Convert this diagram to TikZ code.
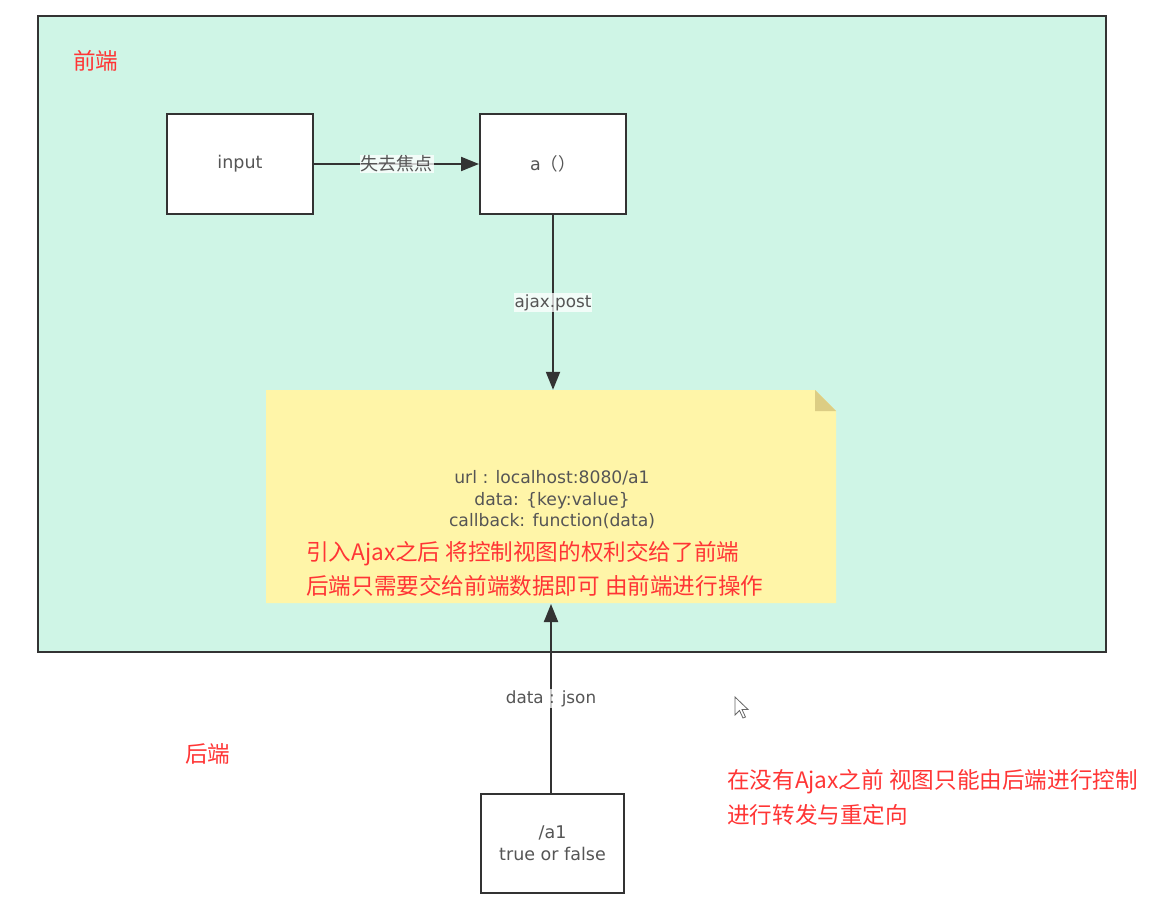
\documentclass[tikz,border=0pt]{standalone}
\usepackage{fontspec}
\setmainfont{Noto Sans CJK SC}
\newfontfamily\latinf{DejaVu Sans}
\usetikzlibrary{arrows.meta}
\definecolor{mint}{HTML}{CFF5E6}
\definecolor{notey}{HTML}{FFF5A8}
\definecolor{foldy}{HTML}{DCCD84}
\definecolor{edge}{HTML}{333333}
\definecolor{redtxt}{HTML}{FF3535}
\definecolor{graytxt}{HTML}{555555}
\tikzset{
  procbox/.style={draw=edge, line width=2pt, fill=white, minimum width=146pt, minimum height=100pt, inner sep=0pt, text=graytxt, font=\fontsize{17.5}{23}\selectfont, align=center},
  conn/.style={draw=edge, line width=2pt, -{Triangle[length=18pt,width=14pt]}},
  lbl/.style={fill=white, fill opacity=0.75, text opacity=1, text=graytxt, inner sep=1pt, font=\latinf\fontsize{16.8}{19}\selectfont},
  cjklbl/.style={lbl, font=\fontsize{18}{20}\selectfont},
  redlbl/.style={text=redtxt, font=\fontsize{22.6}{30}\selectfont, inner sep=0pt, align=left},
  notetxt/.style={text=graytxt, font=\latinf\fontsize{17.2}{21.5}\selectfont, align=center, inner sep=0pt}
}
\begin{document}
\begin{tikzpicture}[x=1pt,y=-1pt]
\useasboundingbox[fill=white] (0,0) rectangle (1165,909);
% frontend area
\draw[draw=edge, line width=2pt, fill=mint] (38,16) rectangle (1106,652);
\node[redlbl, anchor=west] (fe) at (73,61) {前端};
% boxes
\node[procbox] (inp) at (240,164) {\latinf input};
\node[procbox] (afn) at (553,164) {{\latinf a}（）};
% note
\node[minimum width=570pt, minimum height=213pt, inner sep=0pt] (note) at (551,496.5) {};
\fill[notey] (266,390) -- (815,390) -- (836,411) -- (836,603) -- (266,603) -- cycle;
\fill[foldy] (815,390) -- (836,411) -- (815,411) -- cycle;
\node[notetxt] (ntxt) at (552,500) {url : localhost:8080/a1\\data: \{key:value\}\\callback: function(data)};
\node[redlbl, anchor=west] (r1) at (306,554) {引入Ajax之后 将控制视图的权利交给了前端};
\node[redlbl, anchor=west] (r2) at (306,586) {后端只需要交给前端数据即可 由前端进行操作};
% backend
\node[procbox, minimum width=143pt, minimum height=99pt, font=\latinf\fontsize{17.5}{22}\selectfont] (a1) at (552.5,843.5) {/a1\\true or false};
\node[redlbl, anchor=west] (be) at (185,754) {后端};
\node[redlbl, anchor=west] (r3) at (727,782) {在没有Ajax之前 视图只能由后端进行控制};
\node[redlbl, anchor=west] (r4) at (727,815) {进行转发与重定向};
% connectors
\draw[conn] (inp.east) -- node[cjklbl] {失去焦点} (afn.west);
\draw[conn] (afn.south) -- node[lbl, pos=0.5] {ajax.post} (afn.south |- note.north);
\draw[conn] (a1.north -| 551,0) -- node[lbl, pos=0.5] {data : json} (551,604);
% cursor
\filldraw[fill=white, draw=gray!80!black, line width=0.8pt, shift={(735,697)}]
  (0,0) -- (0,18) -- (4.5,13.5) -- (8,21) -- (10.5,20) -- (7,12.5) -- (13,12.5) -- cycle;
\end{tikzpicture}
\end{document}
